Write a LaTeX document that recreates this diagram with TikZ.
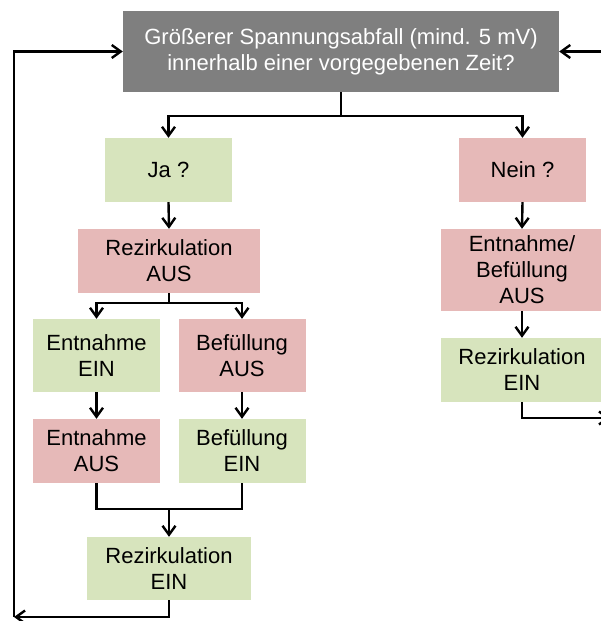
\documentclass[tikz,border=0pt]{standalone}
\usepackage{fontspec}
\setmainfont{Liberation Sans}
\usetikzlibrary{arrows.meta}
\definecolor{boxgreen}{HTML}{D7E4BD}
\definecolor{boxpink}{HTML}{E6B9B8}
\definecolor{boxgray}{HTML}{7F7F7F}
\begin{document}
\begin{tikzpicture}[x=1pt,y=-1pt,
  box/.style={draw=none, inner sep=0pt, align=center, font=\fontsize{22}{26}\selectfont},
  gbox/.style={box, fill=boxgreen},
  pbox/.style={box, fill=boxpink},
  conn/.style={line width=2.4pt, -{Straight Barb[length=9pt,width=13pt,line width=2.4pt]}},
  plain/.style={line width=2.4pt}]
\useasboundingbox (0,0) rectangle (601,621);
\clip (0,0) rectangle (601,621);
\node[box, fill=boxgray, text=white, minimum width=436pt, minimum height=81pt] (top) at (341,51.5) {Größerer Spannungsabfall (mind. 5 mV)\\innerhalb einer vorgegebenen Zeit?};
\node[gbox, minimum width=127pt, minimum height=64pt] (ja) at (168.5,170) {Ja ?};
\node[pbox, minimum width=127pt, minimum height=64pt] (nein) at (522.5,170) {Nein ?};
\node[pbox, minimum width=182pt, minimum height=64pt] (rezA) at (169,261) {Rezirkulation\\AUS};
\node[pbox, minimum width=162pt, minimum height=82pt] (entbef) at (522,270) {Entnahme/\\Befüllung\\AUS};
\node[gbox, minimum width=162pt, minimum height=64pt] (rezR) at (522,370) {Rezirkulation\\EIN};
\node[gbox, minimum width=127pt, minimum height=73pt] (entEIN) at (96.5,355.5) {Entnahme\\EIN};
\node[pbox, minimum width=127pt, minimum height=73pt] (befAUS) at (242,355.5) {Befüllung\\AUS};
\node[pbox, minimum width=127pt, minimum height=64pt] (entAUS) at (96.5,451) {Entnahme\\AUS};
\node[gbox, minimum width=127pt, minimum height=64pt] (befEIN) at (242,451) {Befüllung\\EIN};
\node[gbox, minimum width=164pt, minimum height=63pt] (rez3) at (169,568.5) {Rezirkulation\\EIN};
\coordinate (b1) at (341,116);
\coordinate (b2) at (169,303);
\coordinate (b3) at (169,509);
\coordinate (corner) at (14,617);
\coordinate (rin) at (605,51.5);
\coordinate (rout) at (610,418);
% top split
\draw[plain] (top.south) -- (b1);
\draw[conn] (b1) -| (ja.north);
\draw[conn] (b1) -| (nein.north);
% left branch
\draw[conn] (ja.south) -- (rezA.north);
\draw[plain] (rezA.south) -- (b2);
\draw[conn] (b2) -| (entEIN.north);
\draw[conn] (b2) -| (befAUS.north);
\draw[conn] (entEIN.south) -- (entAUS.north);
\draw[conn] (befAUS.south) -- (befEIN.north);
\draw[plain] (entAUS.south) |- (b3) -| (befEIN.south);
\draw[conn] (b3) -- (rez3.north);
\draw[conn] (rez3.south) |- (corner);
\draw[conn] (corner) |- (top.west);
% right branch
\draw[conn] (nein.south) -- (entbef.north);
\draw[conn] (entbef.south) -- (rezR.north);
\draw[conn] (rezR.south) |- (rout);
\draw[conn] (rin) -- (top.east);
\end{tikzpicture}
\end{document}
